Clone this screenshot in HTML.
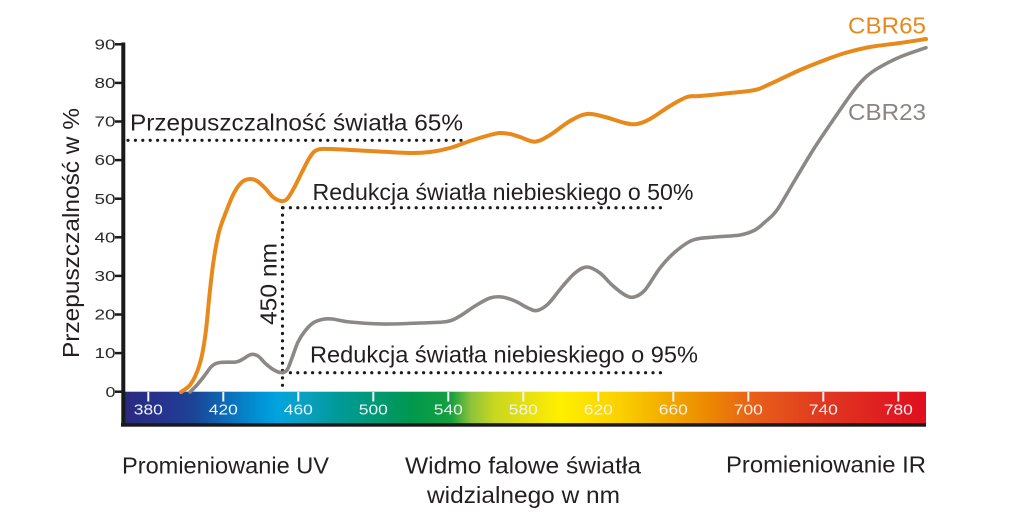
<!DOCTYPE html>
<html>
<head>
<meta charset="utf-8">
<style>
  html,body{margin:0;padding:0;background:#fff;}
  svg{display:block;}
  text{font-family:"Liberation Sans", Arial, sans-serif;}
</style>
</head>
<body>
<svg id="chart" width="1011" height="529" viewBox="0 0 1011 529" xmlns="http://www.w3.org/2000/svg">
  <defs>
    <linearGradient id="spec" x1="125" y1="0" x2="926" y2="0" gradientUnits="userSpaceOnUse">
      <stop offset="0" stop-color="#2a2a7e"/>
      <stop offset="0.0537" stop-color="#253590"/>
      <stop offset="0.0874" stop-color="#1b4596"/>
      <stop offset="0.1248" stop-color="#0c6bb8"/>
      <stop offset="0.1698" stop-color="#0095d6"/>
      <stop offset="0.191" stop-color="#02a3de"/>
      <stop offset="0.2247" stop-color="#0aa0c0"/>
      <stop offset="0.2622" stop-color="#009a9c"/>
      <stop offset="0.3071" stop-color="#00997a"/>
      <stop offset="0.357" stop-color="#00984e"/>
      <stop offset="0.407" stop-color="#15a040"/>
      <stop offset="0.432" stop-color="#8ec33a"/>
      <stop offset="0.462" stop-color="#c8d820"/>
      <stop offset="0.503" stop-color="#e8e010"/>
      <stop offset="0.543" stop-color="#fff000"/>
      <stop offset="0.618" stop-color="#fbd000"/>
      <stop offset="0.680" stop-color="#f2a800"/>
      <stop offset="0.727" stop-color="#ec8a00"/>
      <stop offset="0.784" stop-color="#e86018"/>
      <stop offset="0.868" stop-color="#e03a20"/>
      <stop offset="0.951" stop-color="#e01c20"/>
      <stop offset="1" stop-color="#e00f1e"/>
    </linearGradient>
  </defs>

  <!-- spectrum bar -->
  <rect x="125" y="391.7" width="801" height="32" fill="url(#spec)"/>
  <rect x="121" y="423.2" width="805" height="3.5" fill="#1a1a1a"/>

  <!-- bar ticks and labels -->
  <g stroke="#f2f4f8" stroke-width="2">
    <line x1="148.3" y1="392" x2="148.3" y2="401.5"/>
    <line x1="223.3" y1="392" x2="223.3" y2="401.5"/>
    <line x1="298.3" y1="392" x2="298.3" y2="401.5"/>
    <line x1="373.3" y1="392" x2="373.3" y2="401.5"/>
    <line x1="448.3" y1="392" x2="448.3" y2="401.5"/>
    <line x1="523.3" y1="392" x2="523.3" y2="401.5"/>
    <line x1="598.3" y1="392" x2="598.3" y2="401.5"/>
    <line x1="673.3" y1="392" x2="673.3" y2="401.5"/>
    <line x1="748.3" y1="392" x2="748.3" y2="401.5"/>
    <line x1="823.3" y1="392" x2="823.3" y2="401.5"/>
    <line x1="898.3" y1="392" x2="898.3" y2="401.5"/>
  </g>
  <g fill="#eef2f8" font-size="15" text-anchor="middle">
    <text x="148.3" y="414.5" textLength="29" lengthAdjust="spacingAndGlyphs">380</text>
    <text x="223.3" y="414.5" textLength="29" lengthAdjust="spacingAndGlyphs">420</text>
    <text x="298.3" y="414.5" textLength="29" lengthAdjust="spacingAndGlyphs">460</text>
    <text x="373.3" y="414.5" textLength="29" lengthAdjust="spacingAndGlyphs">500</text>
    <text x="448.3" y="414.5" textLength="29" lengthAdjust="spacingAndGlyphs">540</text>
    <text x="523.3" y="414.5" textLength="29" lengthAdjust="spacingAndGlyphs">580</text>
    <text x="598.3" y="414.5" textLength="29" lengthAdjust="spacingAndGlyphs">620</text>
    <text x="673.3" y="414.5" textLength="29" lengthAdjust="spacingAndGlyphs">660</text>
    <text x="748.3" y="414.5" textLength="29" lengthAdjust="spacingAndGlyphs">700</text>
    <text x="823.3" y="414.5" textLength="29" lengthAdjust="spacingAndGlyphs">740</text>
    <text x="898.3" y="414.5" textLength="29" lengthAdjust="spacingAndGlyphs">780</text>
  </g>

  <!-- y axis -->
  <rect x="121.3" y="42.5" width="4" height="384" fill="#1a1a1a"/>
  <g stroke="#1a1a1a" stroke-width="2.5">
    <line x1="115" y1="391.7" x2="122" y2="391.7"/>
    <line x1="115" y1="353.1" x2="122" y2="353.1"/>
    <line x1="115" y1="314.5" x2="122" y2="314.5"/>
    <line x1="115" y1="275.9" x2="122" y2="275.9"/>
    <line x1="115" y1="237.3" x2="122" y2="237.3"/>
    <line x1="115" y1="198.7" x2="122" y2="198.7"/>
    <line x1="115" y1="160.1" x2="122" y2="160.1"/>
    <line x1="115" y1="121.5" x2="122" y2="121.5"/>
    <line x1="115" y1="82.9" x2="122" y2="82.9"/>
    <line x1="115" y1="44.3" x2="122" y2="44.3"/>
  </g>
  <g fill="#2a2a2a" font-size="14.5" text-anchor="end">
    <text x="115.5" y="396.8" textLength="10" lengthAdjust="spacingAndGlyphs">0</text>
    <text x="115.5" y="358.2" textLength="21" lengthAdjust="spacingAndGlyphs">10</text>
    <text x="115.5" y="319.6" textLength="21" lengthAdjust="spacingAndGlyphs">20</text>
    <text x="115.5" y="281.0" textLength="21" lengthAdjust="spacingAndGlyphs">30</text>
    <text x="115.5" y="242.4" textLength="21" lengthAdjust="spacingAndGlyphs">40</text>
    <text x="115.5" y="203.8" textLength="21" lengthAdjust="spacingAndGlyphs">50</text>
    <text x="115.5" y="165.2" textLength="21" lengthAdjust="spacingAndGlyphs">60</text>
    <text x="115.5" y="126.6" textLength="21" lengthAdjust="spacingAndGlyphs">70</text>
    <text x="115.5" y="88.0" textLength="21" lengthAdjust="spacingAndGlyphs">80</text>
    <text x="115.5" y="49.4" textLength="21" lengthAdjust="spacingAndGlyphs">90</text>
  </g>

  <!-- y axis title -->
  <text transform="translate(79,358) rotate(-90)" font-size="23" fill="#231f20" textLength="250" lengthAdjust="spacingAndGlyphs">Przepuszczalność w %</text>

  <!-- dotted lines -->
  <g stroke="#1a1a1a" stroke-width="3.2" stroke-linecap="round" stroke-dasharray="0 7.4" fill="none">
    <line x1="128" y1="140.3" x2="464" y2="140.3"/>
    <line x1="283" y1="207.7" x2="664" y2="207.7"/>
    <line x1="282.5" y1="207.7" x2="282.5" y2="388"/>
    <line x1="283" y1="372.7" x2="664" y2="372.7"/>
  </g>

  <!-- curves -->
  <polyline class="smooth" fill="none" stroke="#8c8886" stroke-width="3.6" stroke-linejoin="round" stroke-linecap="round"
    points="190,392 197,385 205,375 212,366 220,362.5 236,362 243,359 251,354.5 258,356 266,364 274,370 281,372.5 287,370 292,358 298,342 305,331 313,323 322,319.5 332,319 350,322 383,324 420,323 447,321.5 460,316 475,306 490,298 502,297 515,301 528,308 537,310.5 548,304 562,287 575,273 587,267 600,273 612,285 625,295 634,297 645,290 660,268 675,252 693,240 715,237 740,235 755,230 765,222 777,210 795,180 815,147 840,110 855,89 867,76 880,67 900,57 926,47.7"/>
  <polyline class="smooth" fill="none" stroke="#e8891c" stroke-width="4" stroke-linejoin="round" stroke-linecap="round"
    points="181,392 190,385 197,372 202,355 206,330 210,290 214,258 219,232 226,212 234,193 242,182 250,179 257,181 265,188 273,197 281,201 287,199 294,188 302,172 310,157 317,150 330,149 370,151 410,153 430,152 450,148 470,141 490,135 500,133 510,134 520,137 535,141.7 550,135 570,121 587,114 605,117 625,123 637,124 650,119 670,106 687,97 700,96 730,93 755,90 770,84 800,70 825,60 845,53 870,47 900,43 926,39"/>

  <!-- annotations -->
  <g fill="#231f20" font-size="23">
    <text x="130" y="130.3" textLength="333" lengthAdjust="spacingAndGlyphs">Przepuszczalność światła 65%</text>
    <text x="312.5" y="200" textLength="381" lengthAdjust="spacingAndGlyphs">Redukcja światła niebieskiego o 50%</text>
    <text x="310" y="362.5" textLength="388" lengthAdjust="spacingAndGlyphs">Redukcja światła niebieskiego o 95%</text>
    <text transform="translate(276.5,325) rotate(-90)" textLength="82" lengthAdjust="spacingAndGlyphs">450 nm</text>
  </g>

  <!-- series labels -->
  <text x="848" y="33.3" font-size="23" fill="#e8891c" textLength="78" lengthAdjust="spacingAndGlyphs">CBR65</text>
  <text x="848" y="120" font-size="23" fill="#8a8583" textLength="78" lengthAdjust="spacingAndGlyphs">CBR23</text>

  <!-- bottom labels -->
  <g fill="#231f20" font-size="23">
    <text x="122" y="473.5" textLength="207" lengthAdjust="spacingAndGlyphs">Promieniowanie UV</text>
    <text x="405" y="473.5" textLength="236" lengthAdjust="spacingAndGlyphs">Widmo falowe światła</text>
    <text x="427" y="503" textLength="193" lengthAdjust="spacingAndGlyphs">widzialnego w nm</text>
    <text x="726" y="472.5" textLength="200" lengthAdjust="spacingAndGlyphs">Promieniowanie IR</text>
  </g>
</svg>
<script>
(function(){
  try{
    var NS="http://www.w3.org/2000/svg";
    var lines=document.querySelectorAll("polyline.smooth");
    for(var k=0;k<lines.length;k++){
      var pl=lines[k];
      var raw=pl.getAttribute("points").trim().split(/\s+/);
      var p=[];
      for(var i=0;i<raw.length;i++){var xy=raw[i].split(",");p.push([+xy[0],+xy[1]]);}
      var d="M"+p[0][0]+","+p[0][1];
      for(var i=0;i<p.length-1;i++){
        var p0=p[i>0?i-1:0],p1=p[i],p2=p[i+1],p3=p[i+2<p.length?i+2:p.length-1];
        var t=6;
        var c1x=p1[0]+(p2[0]-p0[0])/t,c1y=p1[1]+(p2[1]-p0[1])/t;
        var c2x=p2[0]-(p3[0]-p1[0])/t,c2y=p2[1]-(p3[1]-p1[1])/t;
        d+=" C"+c1x.toFixed(2)+","+c1y.toFixed(2)+" "+c2x.toFixed(2)+","+c2y.toFixed(2)+" "+p2[0]+","+p2[1];
      }
      var path=document.createElementNS(NS,"path");
      path.setAttribute("d",d);
      path.setAttribute("fill","none");
      path.setAttribute("stroke",pl.getAttribute("stroke"));
      path.setAttribute("stroke-width",pl.getAttribute("stroke-width"));
      path.setAttribute("stroke-linejoin","round");
      path.setAttribute("stroke-linecap","round");
      pl.parentNode.replaceChild(path,pl);
    }
  }catch(e){}
})();
</script>
</body>
</html>
